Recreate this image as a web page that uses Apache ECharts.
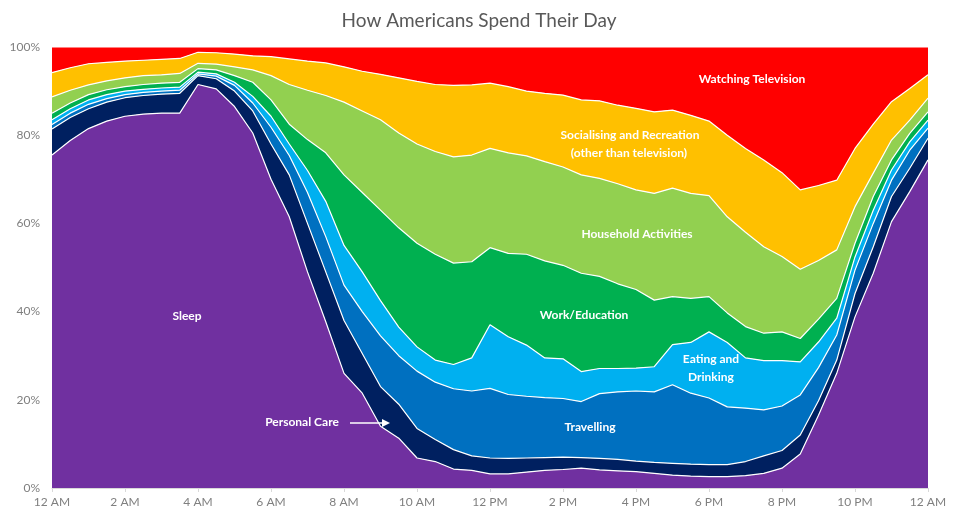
<!DOCTYPE html>
<html>
<head>
<meta charset="utf-8">
<title>How Americans Spend Their Day</title>
<script src="https://cdn.jsdelivr.net/npm/echarts@6/dist/echarts.min.js"></script>
<style>
    html, body { margin: 0; padding: 0; background: #fff; }
    #container { width: 958px; height: 510px; }
</style>
</head>
<body>
<div id="container"></div>
<script>
// half-hour steps, 12 AM to 12 AM
var times = ['12 AM', '12:30 AM', '1 AM', '1:30 AM', '2 AM', '2:30 AM', '3 AM', '3:30 AM',
    '4 AM', '4:30 AM', '5 AM', '5:30 AM', '6 AM', '6:30 AM', '7 AM', '7:30 AM',
    '8 AM', '8:30 AM', '9 AM', '9:30 AM', '10 AM', '10:30 AM', '11 AM', '11:30 AM',
    '12 PM', '12:30 PM', '1 PM', '1:30 PM', '2 PM', '2:30 PM', '3 PM', '3:30 PM',
    '4 PM', '4:30 PM', '5 PM', '5:30 PM', '6 PM', '6:30 PM', '7 PM', '7:30 PM',
    '8 PM', '8:30 PM', '9 PM', '9:30 PM', '10 PM', '10:30 PM', '11 PM', '11:30 PM', '12 AM'];

// share of people (%) doing each activity
var sleep = [75.5, 78.8, 81.5, 83.2, 84.3, 84.8, 85.0, 85.0, 91.5, 90.5, 86.5, 80.5, 70.0, 61.5, 49.0, 37.7,
    26.0, 21.5, 14.0, 11.3, 6.8, 6.0, 4.3, 4.0, 3.2, 3.2, 3.6, 4.0, 4.2, 4.5, 4.1, 3.9,
    3.7, 3.3, 2.9, 2.7, 2.6, 2.6, 2.8, 3.3, 4.5, 7.7, 16.5, 26.0, 38.8, 48.7, 60.4, 67.2, 74.4];
var personalCare = [5.9, 5.2, 4.5, 4.3, 4.2, 4.2, 4.3, 4.5, 2.0, 2.3, 3.5, 5.0, 8.0, 9.5, 11.0, 11.3,
    12.0, 9.0, 9.0, 7.7, 6.7, 5.0, 4.4, 3.3, 3.6, 3.5, 3.2, 2.9, 2.8, 2.4, 2.6, 2.6,
    2.4, 2.5, 2.7, 2.7, 2.7, 2.7, 3.2, 4.0, 4.0, 4.3, 3.3, 3.0, 5.3, 6.0, 5.7, 5.3, 4.9];
var travelling = [1.0, 1.0, 1.0, 0.8, 0.7, 0.7, 0.7, 0.7, 0.4, 0.6, 1.3, 1.8, 3.8, 4.4, 7.0, 8.0,
    8.0, 9.5, 11.5, 11.0, 13.0, 13.0, 13.8, 14.7, 15.8, 14.5, 14.0, 13.6, 13.3, 12.7, 14.7, 15.3,
    15.9, 16.0, 17.8, 16.1, 15.1, 13.1, 12.1, 10.4, 10.1, 9.1, 7.5, 5.7, 5.3, 5.3, 3.7, 4.1, 2.3];
var eatingDrinking = [1.1, 1.0, 1.0, 0.9, 0.8, 0.7, 0.7, 0.7, 0.4, 0.5, 0.7, 1.5, 2.5, 2.6, 5.0, 8.0,
    9.0, 9.0, 8.0, 6.5, 5.5, 5.0, 5.5, 7.5, 14.4, 13.1, 11.6, 9.0, 9.0, 6.8, 5.7, 5.3,
    5.2, 5.7, 9.1, 11.5, 15.0, 14.6, 11.4, 11.2, 10.3, 7.5, 5.8, 3.8, 3.0, 3.0, 2.3, 1.9, 1.8];
var workEducation = [1.5, 1.3, 1.2, 1.1, 1.0, 1.1, 1.1, 1.1, 0.8, 0.9, 1.5, 3.2, 3.7, 4.5, 7.0, 11.0,
    16.0, 18.0, 20.5, 22.5, 23.5, 24.0, 23.0, 21.8, 17.5, 18.9, 20.6, 22.0, 21.2, 22.3, 20.9, 19.2,
    17.8, 15.1, 10.9, 10.0, 8.0, 6.7, 7.1, 6.2, 6.5, 5.3, 5.2, 4.5, 3.1, 3.1, 2.3, 1.9, 1.9];
var household = [3.7, 2.9, 2.2, 2.0, 2.0, 2.0, 1.9, 2.0, 1.2, 1.3, 2.0, 2.8, 5.5, 9.0, 11.2, 13.0,
    16.5, 18.5, 20.5, 21.5, 22.5, 23.3, 24.1, 24.2, 22.5, 22.8, 22.3, 22.5, 22.3, 22.3, 22.2, 22.7,
    22.6, 24.2, 24.6, 23.8, 22.9, 21.8, 21.4, 19.6, 17.1, 15.7, 13.3, 11.0, 8.3, 5.3, 4.5, 3.0, 3.1];
var socialising = [5.5, 5.1, 4.8, 4.2, 3.8, 3.5, 3.5, 3.4, 2.5, 2.6, 2.9, 3.2, 4.3, 5.8, 6.6, 7.4,
    8.0, 9.0, 10.3, 12.5, 14.2, 15.2, 16.2, 15.9, 14.8, 15.0, 14.7, 15.5, 16.3, 17.0, 17.6, 17.8,
    18.5, 18.5, 17.7, 17.7, 16.9, 18.5, 19.0, 19.7, 19.0, 18.0, 17.0, 15.8, 13.2, 11.1, 8.7, 7.2, 5.3];
var television = [5.8, 4.7, 3.8, 3.5, 3.2, 3.0, 2.8, 2.6, 1.2, 1.3, 1.6, 2.0, 2.2, 2.7, 3.2, 3.6,
    4.5, 5.5, 6.2, 7.0, 7.8, 8.5, 8.7, 8.6, 8.2, 9.0, 10.0, 10.5, 10.9, 12.0, 12.2, 13.2,
    13.9, 14.7, 14.3, 15.5, 16.8, 20.0, 23.0, 25.6, 28.5, 32.4, 31.4, 30.2, 23.0, 17.5, 12.4, 9.4, 6.3];

var yTicks = [0, 20, 40, 60, 80, 100];

var activities = [
    {name: 'Sleep', data: sleep, color: '#7030A0'},
    {name: 'Personal Care', data: personalCare, color: '#002060'},
    {name: 'Travelling', data: travelling, color: '#0070C0'},
    {name: 'Eating and Drinking', data: eatingDrinking, color: '#00B0F0'},
    {name: 'Work/Education', data: workEducation, color: '#00B050'},
    {name: 'Household Activities', data: household, color: '#92D050'},
    {name: 'Socialising and Recreation', data: socialising, color: '#FFC000'},
    {name: 'Watching Television', data: television, color: '#FF0000'}
];

var fontFamily = 'Lato, "Open Sans", sans-serif';
var labelFont = 'bold 12px ' + fontFamily;

// white text written inside the areas
function areaLabel(text, x, y) {
    return {
        type: 'text', x: x, y: y, z: 100,
        style: {
            text: text, fill: '#ffffff', font: labelFont,
            align: 'center', verticalAlign: 'middle',
            textAlign: 'center', textVerticalAlign: 'middle'
        }
    };
}

var dom = document.getElementById('container');
var myChart = echarts.init(dom);

var option = {
    animation: false,
    title: {
        text: 'How Americans Spend Their Day',
        left: 'center',
        top: 6,
        textStyle: {
            fontFamily: fontFamily,
            fontSize: 19,
            fontWeight: 'normal',
            color: '#595959'
        }
    },
    grid: {left: 52, right: 30, top: 47, bottom: 22},
    xAxis: {
        type: 'category',
        data: times,
        boundaryGap: false,
        axisLine: {lineStyle: {color: '#d9d9d9'}},
        axisTick: {show: true, interval: 3, length: 4, lineStyle: {color: '#d9d9d9'}},
        axisLabel: {
            interval: 3,
            color: '#7f7f7f',
            fontFamily: fontFamily,
            fontSize: 12,
            margin: 8
        }
    },
    yAxis: {
        type: 'value',
        min: yTicks[0],
        max: yTicks[yTicks.length - 1],
        interval: yTicks[1] - yTicks[0],
        axisLine: {show: false},
        axisTick: {show: false},
        splitLine: {show: false},
        axisLabel: {
            formatter: '{value}%',
            color: '#7f7f7f',
            fontFamily: fontFamily,
            fontSize: 12,
            margin: 12
        }
    },
    // lower layers get a higher z so their white top line stays visible
    series: activities.map(function(a, i) {
        return {
            name: a.name,
            type: 'line',
            stack: 'day',
            data: a.data,
            z: 20 - i,
            showSymbol: false,
            symbol: 'none',
            lineStyle: {color: '#ffffff', width: 1.2},
            areaStyle: {color: a.color, opacity: 1},
            itemStyle: {color: a.color}
        };
    }),
    graphic: [
        areaLabel('Watching Television', 752, 79),
        areaLabel('Socialising and Recreation', 630, 135),
        areaLabel('(other than television)', 629, 153),
        areaLabel('Household Activities', 637, 234),
        areaLabel('Work/Education', 584, 315),
        areaLabel('Eating and', 711, 359),
        areaLabel('Drinking', 711, 377),
        areaLabel('Travelling', 590, 427),
        areaLabel('Sleep', 187, 316),
        areaLabel('Personal Care', 302, 422),
        {
            type: 'line', z: 100,
            shape: {x1: 350, y1: 423, x2: 384, y2: 423},
            style: {stroke: '#ffffff', lineWidth: 1.5}
        },
        {
            type: 'polygon', z: 100,
            shape: {points: [[382, 419], [390, 423], [382, 427]]},
            style: {fill: '#ffffff'}
        }
    ]
};

myChart.setOption(option, true);
window.onresize = function() {
    myChart.resize();
};
</script>
</body>
</html>
